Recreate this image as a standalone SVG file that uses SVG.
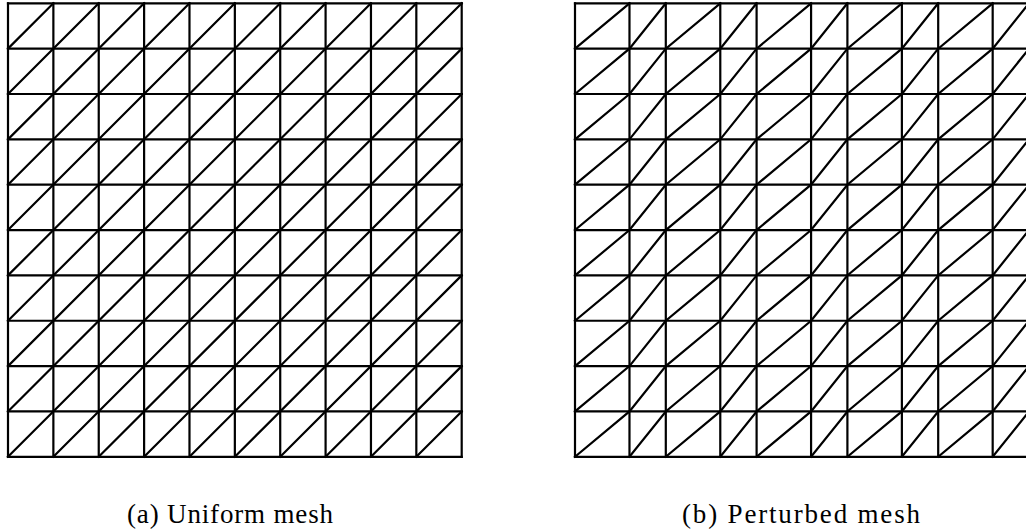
<svg xmlns="http://www.w3.org/2000/svg" width="1026" height="531" viewBox="0 0 1026 531">
<style>
.mesh path{fill:none;stroke:#000;stroke-width:2.2;vector-effect:non-scaling-stroke;stroke-linecap:square;stroke-linejoin:miter}
.cap{font-family:"Liberation Serif","Times New Roman",serif;font-size:27px;fill:#000}
</style>
<rect width="1026" height="531" fill="#fff"/>
<g id="uniform-mesh" class="mesh" transform="translate(8,3.3) scale(45.37,45.35)">
<path d="M0 0V10M1 0V10M2 0V10M3 0V10M4 0V10M5 0V10M6 0V10M7 0V10M8 0V10M9 0V10M10 0V10"/>
<path d="M0 0H10M0 1H10M0 2H10M0 3H10M0 4H10M0 5H10M0 6H10M0 7H10M0 8H10M0 9H10M0 10H10"/>
<path d="M0 1L1 0M0 2L2 0M0 3L3 0M0 4L4 0M0 5L5 0M0 6L6 0M0 7L7 0M0 8L8 0M0 9L9 0M0 10L10 0M1 10L10 1M2 10L10 2M3 10L10 3M4 10L10 4M5 10L10 5M6 10L10 6M7 10L10 7M8 10L10 8M9 10L10 9"/>
</g>
<g id="perturbed-mesh" class="mesh" transform="translate(575,3.3) scale(45.4,45.35)">
<path d="M0 0V10M1.2 0V10M2 0V10M3.2 0V10M4 0V10M5.2 0V10M6 0V10M7.2 0V10M8 0V10M9.2 0V10M10 0V10"/>
<path d="M0 0H10M0 1H10M0 2H10M0 3H10M0 4H10M0 5H10M0 6H10M0 7H10M0 8H10M0 9H10M0 10H10"/>
<path d="M0 1L1.2 0
M0 2L1.2 1L2 0
M0 3L1.2 2L2 1L3.2 0
M0 4L1.2 3L2 2L3.2 1L4 0
M0 5L1.2 4L2 3L3.2 2L4 1L5.2 0
M0 6L1.2 5L2 4L3.2 3L4 2L5.2 1L6 0
M0 7L1.2 6L2 5L3.2 4L4 3L5.2 2L6 1L7.2 0
M0 8L1.2 7L2 6L3.2 5L4 4L5.2 3L6 2L7.2 1L8 0
M0 9L1.2 8L2 7L3.2 6L4 5L5.2 4L6 3L7.2 2L8 1L9.2 0
M0 10L1.2 9L2 8L3.2 7L4 6L5.2 5L6 4L7.2 3L8 2L9.2 1L10 0
M1.2 10L2 9L3.2 8L4 7L5.2 6L6 5L7.2 4L8 3L9.2 2L10 1
M2 10L3.2 9L4 8L5.2 7L6 6L7.2 5L8 4L9.2 3L10 2
M3.2 10L4 9L5.2 8L6 7L7.2 6L8 5L9.2 4L10 3
M4 10L5.2 9L6 8L7.2 7L8 6L9.2 5L10 4
M5.2 10L6 9L7.2 8L8 7L9.2 6L10 5
M6 10L7.2 9L8 8L9.2 7L10 6
M7.2 10L8 9L9.2 8L10 7
M8 10L9.2 9L10 8
M9.2 10L10 9"/>
</g>
<g id="caption-a"><text class="cap" x="127" y="523" textLength="206" lengthAdjust="spacing">(a) Uniform mesh</text></g>
<g id="caption-b"><text class="cap" x="682" y="523" textLength="238" lengthAdjust="spacing">(b) Perturbed mesh</text></g>
</svg>
